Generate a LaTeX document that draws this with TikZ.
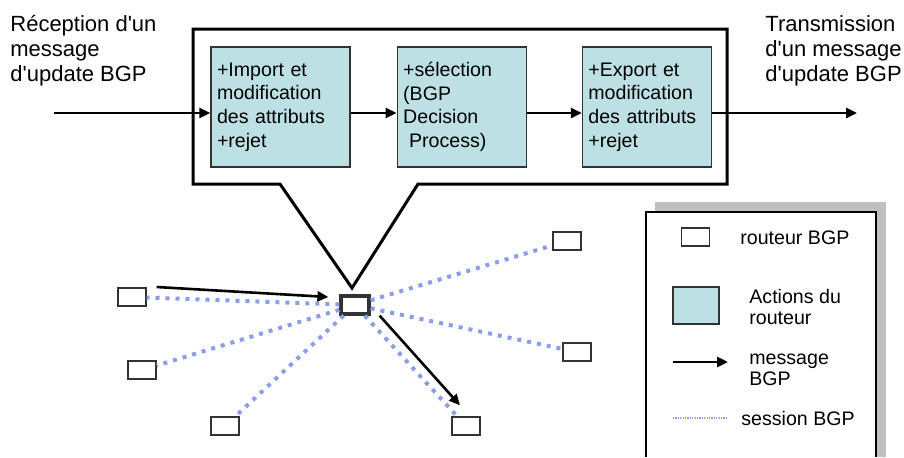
\documentclass[tikz,border=0pt]{standalone}
\usepackage{fontspec}
\setmainfont{Liberation Sans}
\usetikzlibrary{positioning,calc,arrows.meta}
\definecolor{actionfill}{HTML}{BCE0E3}
\definecolor{sessionblue}{HTML}{8C9EEB}
\definecolor{shadowgray}{HTML}{C0C0C0}
\newcommand{\apos}{\textquotesingle}

\begin{document}
\begin{tikzpicture}[x=0.5pt, y=-0.5pt,
    action/.style={rectangle, draw=black!80, fill=actionfill, line width=0.6pt, minimum height=60pt, inner sep=3pt, align=left, font=\fontsize{9.8}{11.8}\selectfont},
    routeur/.style={rectangle, draw=black!80, fill=white, line width=0.7pt, minimum width=14pt, minimum height=9pt, inner sep=0pt},
    msg/.style={-{Triangle[length=5.5pt,width=5pt]}, line width=1.3pt},
    session/.style={sessionblue, line width=2pt, dash pattern=on 2pt off 3pt},
    titletext/.style={align=left, inner sep=0pt, anchor=north west, font=\fontsize{11}{12.5}\selectfont},
    legtext/.style={align=left, inner sep=0pt, anchor=west, font=\fontsize{9.8}{10.5}\selectfont}]
    \useasboundingbox (0,0) rectangle (904,457);

    % Titles - entree et sortie
    \node [titletext] (recv) at (10,15) {R\'eception d\apos un\\message\\d\apos update BGP};
    \node [titletext] (send) at (765,15) {Transmission\\d\apos un message\\d\apos update BGP};

    % Callout frame
    \coordinate (apex) at (352,288);
    \draw [line width=1.5pt, line join=miter] (280,184) -- (193,184) -- (193,29) -- (727,29) -- (727,184) -- (418,184) -- (apex) -- cycle;

    % Actions du routeur
    \node [action, minimum width=69.5pt, text width=63.5pt] (import) at (280.5,107) {+Import et\\modification\\des attributs\\+rejet};
    \node [action, minimum width=64.5pt, text width=58.5pt, right=23pt of import] (select) {+s\'election\\(BGP\\Decision\\\hspace*{0.3em}Process)};
    \node [action, minimum width=64.5pt, text width=58.5pt, right=27.5pt of select] (export) {+Export et\\modification\\des attributs\\+rejet};

    \coordinate (in) at (54,113);
    \coordinate (out) at (857,113);
    \draw [msg] (in) -- (in -| import.west);
    \draw [msg] (import.east |- in) -- (in -| select.west);
    \draw [msg] (select.east |- in) -- (in -| export.west);
    \draw [msg] (export.east |- in) -- (out);

    % Routeurs BGP
    \node [routeur, line width=1.6pt] (hub) at (355,305) {};
    \node [routeur] (r1) at (132,297) {};
    \node [routeur] (r2) at (142,370) {};
    \node [routeur] (r3) at (225,426) {};
    \node [routeur] (r4) at (466,426) {};
    \node [routeur] (r5) at (577,352) {};
    \node [routeur] (r6) at (567,241) {};

    % Sessions BGP
    \foreach \r in {r1,r2,r3,r4,r5,r6}
        \draw [session] (hub) -- (\r);

    % Messages BGP
    \draw [msg] ([xshift=5pt,yshift=5pt]r1.east) -- ([xshift=-5.5pt,yshift=4pt]hub.west);
    \draw [msg] ([xshift=4.5pt]hub.south east) -- ([xshift=-3pt,yshift=5.5pt]r4.north);

    % Legende
    \fill [shadowgray] (655,202) rectangle (886,457);
    \fill [white] (646,212) rectangle (876,457);
    \draw [line width=0.8pt] (646,457) |- (876,212) -- (876,457);

    \node [routeur] (legrouteur) at (695.5,237) {};
    \node [legtext] (legrouteurtxt) at (740,238) {routeur BGP};
    \node [action, minimum width=23pt, minimum height=18.5pt, inner sep=0pt] (legaction) at (696,305.5) {};
    \node [legtext] (legactiontxt) at (749,307) {Actions du\\routeur};
    \coordinate (lmsgA) at (673,362);
    \coordinate (lmsgB) at (728,362);
    \draw [msg] (lmsgA) -- (lmsgB);
    \node [legtext] (legmsgtxt) at (749,370) {message\\BGP};
    \coordinate (lsesA) at (673,418);
    \coordinate (lsesB) at (728,418);
    \draw [sessionblue, line width=0.6pt, dash pattern=on 0.6pt off 0.6pt] (lsesA) -- (lsesB);
    \node [legtext] (legsestxt) at (741,418) {session BGP};
\end{tikzpicture}
\end{document}
